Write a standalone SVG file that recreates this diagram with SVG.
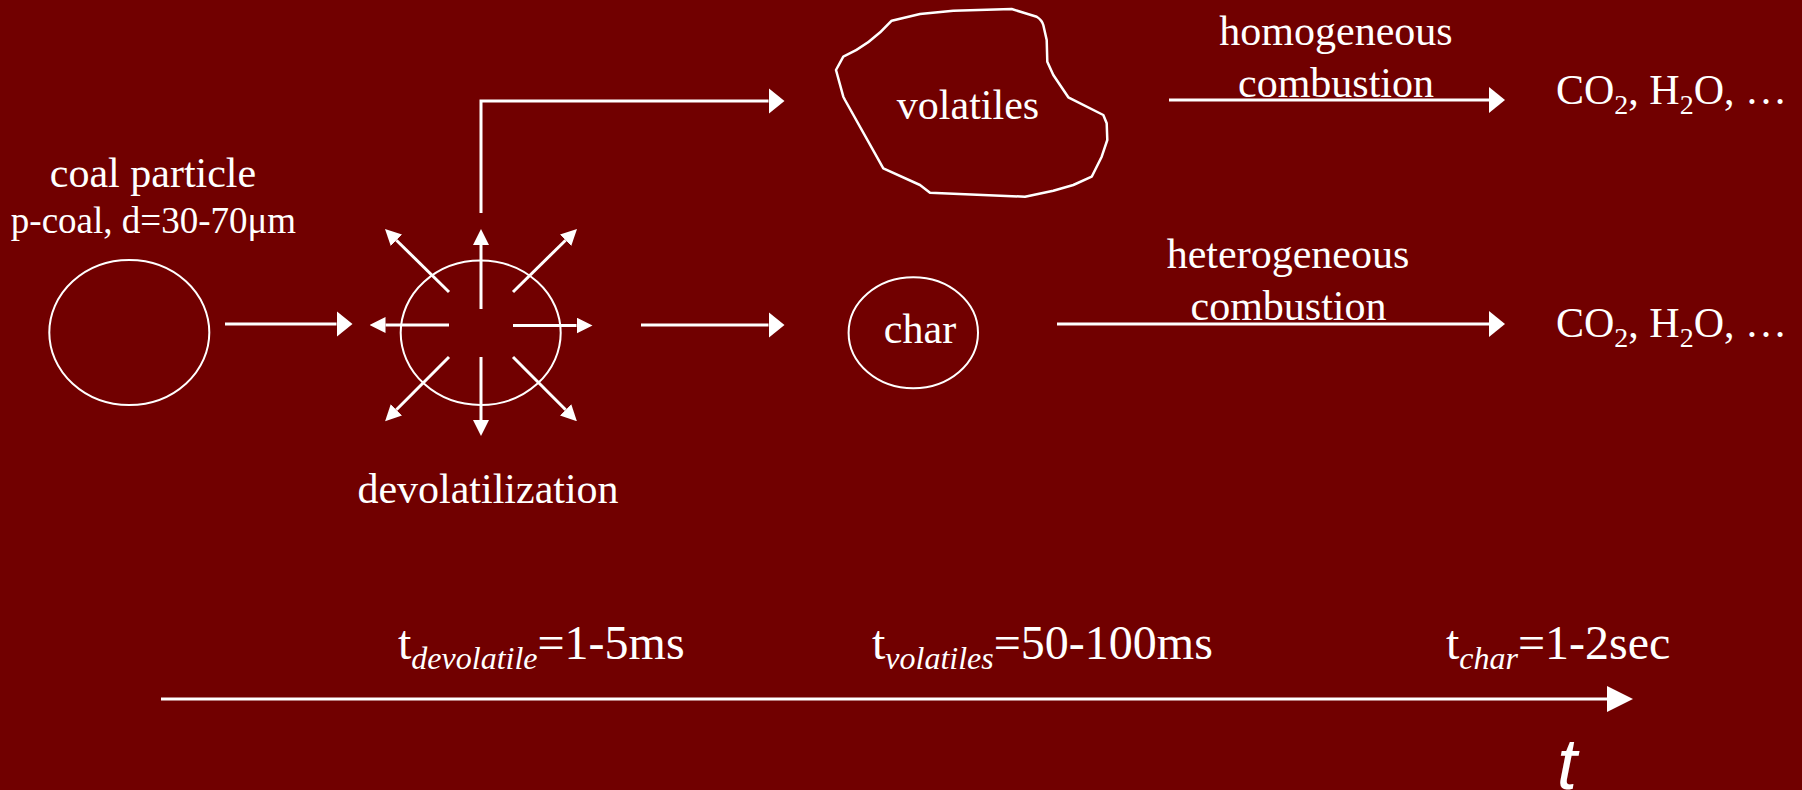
<svg xmlns="http://www.w3.org/2000/svg" width="1802" height="790" viewBox="0 0 1802 790">
  <style>
    text { font-family: "Liberation Serif", "Times New Roman", serif; fill: #ffffff; font-size: 42px; }
    .mid { text-anchor: middle; }
    .shape { fill: none; stroke: #ffffff; stroke-width: 2; }
    .conn { fill: none; stroke: #ffffff; stroke-width: 3; }
    .big { marker-end: url(#head); }
    .small { marker-end: url(#headSmall); }
    .sub { font-size: 28px; }
    .isub { font-size: 32px; font-style: italic; }
  </style>
  <defs>
    <marker id="head" markerUnits="userSpaceOnUse" viewBox="0 0 16 26" markerWidth="16" markerHeight="26" refX="0" refY="13" orient="auto">
      <path d="M0,0 L16,13 L0,26 Z" fill="#ffffff"/>
    </marker>
    <marker id="headSmall" markerUnits="userSpaceOnUse" viewBox="0 0 16 16" markerWidth="16" markerHeight="16" refX="0" refY="8" orient="auto">
      <path d="M0,0 L16,8 L0,16 Z" fill="#ffffff"/>
    </marker>
    <marker id="headTime" markerUnits="userSpaceOnUse" viewBox="0 0 26 26" markerWidth="26" markerHeight="26" refX="0" refY="13" orient="auto">
      <path d="M0,0 L26,13 L0,26 Z" fill="#ffffff"/>
    </marker>
  </defs>

  <rect x="0" y="0" width="1802" height="790" fill="#710000"/>

  <g id="coal-particle">
    <ellipse class="shape" cx="129.3" cy="332.5" rx="80" ry="72.5"/>
    <text class="mid" x="153" y="187">coal particle</text>
    <text class="mid" x="153.5" y="233" style="font-size:37px">p-coal, d=30-70μm</text>
  </g>

  <g id="devolatilization">
    <ellipse class="shape" cx="480.7" cy="332.8" rx="80" ry="72.2"/>
    <g id="burst">
      <line class="conn small" x1="481" y1="309" x2="481" y2="245"/>
      <line class="conn small" x1="481" y1="357" x2="481" y2="420"/>
      <line class="conn small" x1="449" y1="325" x2="385.5" y2="325"/>
      <line class="conn small" x1="513" y1="325.5" x2="576.5" y2="325.5"/>
      <line class="conn small" x1="449" y1="292" x2="396.4" y2="240.2"/>
      <line class="conn small" x1="513" y1="292" x2="565.6" y2="240.2"/>
      <line class="conn small" x1="449" y1="357" x2="396.4" y2="409.8"/>
      <line class="conn small" x1="513" y1="357" x2="565.6" y2="409.8"/>
    </g>
    <text class="mid" x="488" y="503">devolatilization</text>
  </g>

  <g id="volatiles">
    <path class="shape" style="stroke-width:2.5;stroke-linejoin:round" d="M843.3,56.7 Q870,45 891.7,20.7 L920,14 L953.3,10.7 L1011.7,9 L1036.7,16.7 Q1042,20 1043.3,25 L1046.7,40 L1047.3,61.7 L1053.3,75 L1068.3,97.3 L1103.3,115 L1106.7,123.3 L1107.3,140 L1101.7,156.7 L1091.7,176.7 L1073.3,185 L1053.3,190.7 L1025,196.7 L930,192.7 L920,185 L883.3,168.3 L845,100 L843.3,96.7 L836,70 Z"/>
    <text class="mid" x="968" y="119">volatiles</text>
  </g>

  <g id="char">
    <ellipse class="shape" cx="913.3" cy="332.8" rx="64.7" ry="55.5"/>
    <text class="mid" x="920" y="343">char</text>
  </g>

  <g id="products-volatiles">
    <text x="1556" y="104">CO<tspan class="sub" dy="10">2</tspan><tspan dy="-10">, H</tspan><tspan class="sub" dy="10">2</tspan><tspan dy="-10">O, …</tspan></text>
  </g>

  <g id="products-char">
    <text x="1556" y="337">CO<tspan class="sub" dy="10">2</tspan><tspan dy="-10">, H</tspan><tspan class="sub" dy="10">2</tspan><tspan dy="-10">O, …</tspan></text>
  </g>

  <g id="connectors">
    <line class="conn big" x1="225" y1="324" x2="336.5" y2="324"/>
    <polyline class="conn big" points="481,213 481,101 768.5,101"/>
    <line class="conn big" x1="641" y1="325" x2="768.5" y2="325"/>
    <line class="conn big" x1="1169" y1="100" x2="1489" y2="100"/>
    <line class="conn big" x1="1057" y1="324" x2="1489" y2="324"/>
    <text class="mid" x="1336" y="45">homogeneous</text>
    <text class="mid" x="1336" y="97">combustion</text>
    <text class="mid" x="1288" y="268">heterogeneous</text>
    <text class="mid" x="1288.5" y="320">combustion</text>
  </g>

  <g id="timeline">
    <line class="conn" x1="161" y1="699" x2="1607" y2="699" marker-end="url(#headTime)"/>
    <text x="398" y="659" style="font-size:48px">t<tspan class="isub" dy="10">devolatile</tspan><tspan dy="-10">=1-5ms</tspan></text>
    <text x="872" y="659" style="font-size:48px">t<tspan class="isub" dy="10">volatiles</tspan><tspan dy="-10">=50-100ms</tspan></text>
    <text x="1446" y="659" style="font-size:48px">t<tspan class="isub" dy="10">char</tspan><tspan dy="-10">=1-2sec</tspan></text>
    <text x="1557" y="789" style="font-family:'Liberation Sans', Arial, sans-serif;font-style:italic;font-size:72px">t</text>
  </g>
</svg>
